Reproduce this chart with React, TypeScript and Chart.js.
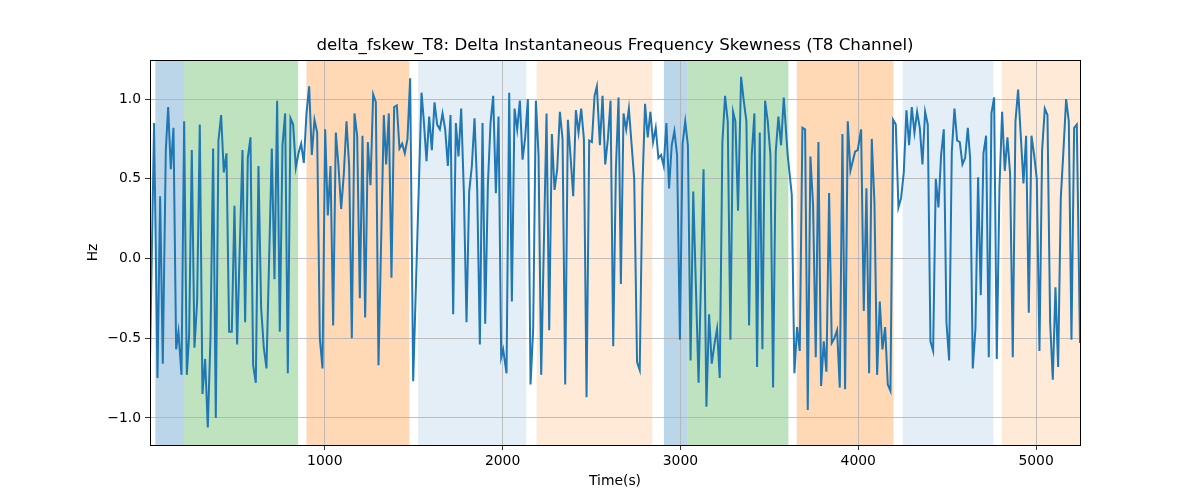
import React, { useEffect, useRef } from "react";
import { Chart, registerables } from "chart.js";

Chart.register(...registerables);

const times = [
  17, 40, 59, 74, 89, 106, 119, 134, 149, 164, 177, 194, 209, 224, 237, 252, 267, 282, 297, 312,
  327, 342, 357, 372, 387, 402, 417, 432, 447, 462, 477, 492, 507, 537, 552, 567, 582, 597, 612, 627,
  642, 657, 672, 702, 717, 732, 747, 762, 777, 792, 807, 822, 837, 852, 867, 882, 897, 912, 927, 942,
  957, 972, 987, 1002, 1017, 1032, 1047, 1062, 1077, 1092, 1107, 1122, 1137, 1152, 1167, 1182, 1197, 1212, 1227, 1242,
  1257, 1272, 1287, 1302, 1332, 1345, 1360, 1375, 1390, 1405, 1420, 1435, 1450, 1465, 1480, 1497, 1544, 1557, 1572, 1587,
  1602, 1617, 1632, 1647, 1662, 1677, 1692, 1707, 1722, 1737, 1752, 1767, 1782, 1797, 1812, 1827, 1842, 1857, 1872, 1887,
  1902, 1917, 1932, 1947, 1962, 1977, 1992, 2003, 2022, 2037, 2052, 2067, 2082, 2097, 2112, 2127, 2142, 2157, 2172, 2187,
  2202, 2217, 2247, 2262, 2277, 2292, 2307, 2322, 2337, 2352, 2367, 2382, 2397, 2412, 2427, 2442, 2457, 2472, 2487, 2502,
  2517, 2530, 2547, 2562, 2577, 2592, 2607, 2622, 2637, 2652, 2665, 2680, 2695, 2710, 2725, 2740, 2756, 2771, 2786, 2801,
  2816, 2831, 2846, 2861, 2876, 2891, 2906, 2921, 2936, 2951, 2966, 2981, 2997, 3012, 3027, 3042, 3057, 3072, 3102, 3130,
  3146, 3161, 3176, 3191, 3206, 3221, 3236, 3251, 3266, 3281, 3296, 3309, 3324, 3341, 3356, 3371, 3386, 3401, 3416, 3431,
  3446, 3461, 3476, 3491, 3506, 3521, 3536, 3551, 3566, 3581, 3603, 3626, 3641, 3656, 3671, 3686, 3701, 3716, 3731, 3746,
  3761, 3776, 3791, 3806, 3821, 3836, 3851, 3866, 3881, 3896, 3911, 3926, 3941, 3956, 3967, 3982, 3997, 4016, 4031, 4046,
  4061, 4076, 4091, 4106, 4121, 4136, 4151, 4166, 4181, 4196, 4211, 4226, 4241, 4256, 4271, 4286, 4301, 4316, 4331, 4346,
  4361, 4376, 4391, 4406, 4421, 4436, 4451, 4466, 4481, 4496, 4511, 4526, 4541, 4556, 4571, 4586, 4601, 4616, 4629, 4644,
  4659, 4674, 4689, 4704, 4719, 4734, 4749, 4764, 4779, 4794, 4809, 4824, 4839, 4854, 4869, 4884, 4899, 4914, 4929, 4944,
  4959, 4974, 4989, 5004, 5019, 5034, 5049, 5064, 5079, 5094, 5109, 5124, 5139, 5154, 5169, 5184, 5199, 5214, 5229, 5247,
];

const values = [
  -0.63, 0.85, -0.75, 0.39, -0.66, 0.68, 0.95, 0.56, 0.82, -0.57, -0.46, -0.73, 0.86, -0.73, -0.48, 0.68, -0.56, -0.27, 0.84, -0.85,
  -0.63, -1.06, -0.5, 0.69, -1.0, 0.74, 0.9, 0.54, 0.66, -0.46, -0.46, 0.33, -0.54, 0.68, -0.4, 0.63, 0.76, -0.67, -0.78, 0.58,
  -0.31, -0.56, -0.69, 0.69, -0.13, 0.99, -0.46, 0.71, 0.91, -0.72, 0.88, 0.84, 0.57, 0.66, 0.72, 0.6, 0.91, 1.08, 0.65, 0.87,
  0.79, -0.5, -0.69, 0.81, 0.27, 0.58, -0.42, 0.79, 0.58, 0.31, 0.53, 0.86, 0.58, -0.5, 0.91, 0.77, -0.25, 0.77, -0.37, 0.73,
  0.46, 1.03, 0.98, -0.67, 0.9, 0.59, 0.91, -0.12, 0.95, 0.96, 0.69, 0.72, 0.66, 0.75, 1.13, -0.77, 1.04, 0.86, 0.61, 0.89,
  0.68, 0.98, 0.84, 0.81, 0.91, 0.81, 0.58, 0.9, -0.35, 0.85, 0.64, 0.94, 0.42, -0.4, 0.42, 0.58, 0.88, 0.44, -0.54, 0.85,
  -0.41, 0.46, 0.85, 1.02, 0.41, 0.89, -0.62, -0.57, -0.72, 1.04, -0.27, 0.94, 0.81, 0.99, 0.62, 0.76, 1.0, -0.79, -0.44, 0.99,
  0.65, -0.73, 0.91, -0.45, 0.78, 0.43, 0.56, 0.92, 0.75, -0.79, 0.87, 0.64, 0.39, 0.93, 0.79, 0.94, 0.75, -0.87, 0.74, 0.73,
  1.02, 1.08, 0.71, 1.02, 0.59, 0.75, 0.99, -0.55, 0.56, 1.01, -0.16, 0.91, 0.81, 0.94, 0.72, 0.5, -0.65, -0.7, 0.44, 0.97,
  0.76, 0.92, 0.73, 0.82, 0.63, 0.65, 0.58, 0.85, 0.44, 0.71, 0.8, 0.65, -0.51, 0.72, 0.86, 0.71, -0.64, 0.42, -0.78, 0.56,
  -0.93, -0.35, -0.66, -0.54, -0.44, -0.75, 0.73, 1.02, 0.86, -0.51, 0.92, 0.86, 0.3, 1.14, 0.99, 0.86, -0.42, 0.65, 0.91, -0.68,
  0.79, -0.57, 0.99, 0.86, 0.65, -0.81, 0.67, 0.89, 0.71, 1.01, 0.65, 0.4, -0.72, -0.43, -0.58, 0.82, 0.81, -0.95, 0.64, 0.33,
  -0.62, 0.73, -0.8, -0.52, -0.71, 0.41, -0.53, -0.5, -0.45, -0.81, 0.78, -0.82, 0.86, 0.55, 0.6, 0.67, 0.68, 0.81, -0.33, 0.44,
  -0.72, 0.75, 0.35, -0.73, -0.27, -0.57, -0.43, -0.79, -0.83, 0.87, 0.84, 0.32, 0.38, 0.54, 0.93, 0.71, 0.95, 0.79, 0.92, 0.82,
  0.59, 0.92, 0.84, -0.52, -0.58, 0.5, 0.32, 0.65, 0.81, -0.4, -0.64, 0.67, 0.94, 0.74, 0.73, 0.59, 0.63, 0.82, 0.63, -0.69,
  -0.44, 0.51, -0.23, 0.66, 0.77, -0.62, 0.91, 1.01, -0.63, 0.44, 0.92, 0.55, 0.76, 0.53, -0.62, 0.86, 1.06, 0.77, 0.47, 0.77,
  -0.34, 0.77, 0.65, 0.5, -0.58, 0.68, 0.94, 0.9, -0.4, -0.76, -0.18, -0.68, 0.38, 0.68, 1.0, 0.86, -0.51, 0.82, 0.84, -0.53,
];

const xTicks = [1000, 2000, 3000, 4000, 5000];
const yTicks = [-1.0, -0.5, 0.0, 0.5, 1.0];

const spanStarts = [47, 209, 897, 1525, 2191, 2907, 3039, 3654, 4250, 4807];
const spanEnds = [209, 850, 1475, 2133, 2842, 3039, 3607, 4198, 4760, 5247];
const spanColors = [
  "rgba(31,119,180,0.3)",
  "rgba(44,160,44,0.3)",
  "rgba(255,127,14,0.3)",
  "rgba(31,119,180,0.12)",
  "rgba(255,127,14,0.16)",
  "rgba(31,119,180,0.3)",
  "rgba(44,160,44,0.3)",
  "rgba(255,127,14,0.3)",
  "rgba(31,119,180,0.12)",
  "rgba(255,127,14,0.16)",
];

const FONT = "'DejaVu Sans', sans-serif";

const spanPlugin = {
  id: "spans",
  beforeDraw(chart: any) {
    const { ctx, chartArea, scales } = chart;
    ctx.save();
    ctx.beginPath();
    ctx.rect(chartArea.left, chartArea.top, chartArea.right - chartArea.left, chartArea.bottom - chartArea.top);
    ctx.clip();
    for (let i = 0; i < spanStarts.length; i++) {
      const x0 = scales.x.getPixelForValue(spanStarts[i]);
      const x1 = scales.x.getPixelForValue(spanEnds[i]);
      ctx.fillStyle = spanColors[i];
      ctx.fillRect(x0, chartArea.top, x1 - x0, chartArea.bottom - chartArea.top);
    }
    ctx.restore();
  },
  afterDraw(chart: any) {
    const { ctx, chartArea } = chart;
    ctx.save();
    ctx.strokeStyle = "#000";
    ctx.lineWidth = 1;
    ctx.strokeRect(
      Math.round(chartArea.left) + 0.5,
      Math.round(chartArea.top) + 0.5,
      Math.round(chartArea.right - chartArea.left),
      Math.round(chartArea.bottom - chartArea.top)
    );
    ctx.restore();
  },
};

export default function App() {
  const ref = useRef<HTMLCanvasElement | null>(null);

  useEffect(() => {
    if (!ref.current) return;
    const data = times.map((t, i) => ({ x: t, y: values[i] }));
    const chart = new Chart(ref.current, {
      type: "line",
      data: {
        datasets: [
          {
            data,
            borderColor: "#1f77b4",
            borderWidth: 2,
            pointRadius: 0,
            tension: 0,
            fill: false,
          },
        ],
      },
      options: {
        responsive: false,
        animation: false,
        devicePixelRatio: 1,
        layout: { padding: { left: 0, right: 120, top: 0, bottom: 0 } },
        plugins: {
          legend: { display: false },
          tooltip: { enabled: false },
          title: {
            display: true,
            fullSize: false,
            text: "delta_fskew_T8: Delta Instantaneous Frequency Skewness (T8 Channel)",
            color: "#000",
            font: { family: FONT, size: 16.67, weight: "normal" },
            padding: { top: 36, bottom: 4 },
          },
        },
        scales: {
          x: {
            type: "linear",
            min: 17,
            max: 5247,
            afterFit: (scale: any) => {
              scale.height = 55;
            },
            afterBuildTicks: (scale: any) => {
              scale.ticks = xTicks.map((v) => ({ value: v }));
            },
            ticks: {
              color: "#000",
              font: { family: FONT, size: 13.9 },
              padding: 3,
              maxRotation: 0,
              callback: (v: any) => String(v),
            },
            grid: {
              color: "#b0b0b0",
              lineWidth: 0.8,
              tickColor: "#000",
              tickLength: 5,
            },
            border: { display: false },
            title: {
              display: true,
              text: "Time(s)",
              color: "#000",
              font: { family: FONT, size: 13.9 },
              padding: { top: 0, bottom: 10.7 },
            },
          },
          y: {
            type: "linear",
            min: -1.17,
            max: 1.245,
            afterFit: (scale: any) => {
              scale.width = 150;
            },
            afterBuildTicks: (scale: any) => {
              scale.ticks = yTicks.map((v) => ({ value: v }));
            },
            ticks: {
              color: "#000",
              font: { family: FONT, size: 13.9 },
              padding: 4,
              callback: (v: any) => (v < 0 ? "\u2212" : "") + Math.abs(Number(v)).toFixed(1),
            },
            grid: {
              color: "#b0b0b0",
              lineWidth: 0.8,
              tickColor: "#000",
              tickLength: 5,
            },
            border: { display: false },
            title: {
              display: true,
              text: "Hz",
              color: "#000",
              font: { family: FONT, size: 13.9 },
              padding: { top: 84.7, bottom: 0 },
            },
          },
        },
      },
      plugins: [spanPlugin],
    });
    return () => chart.destroy();
  }, []);

  return (
    <div style={{ position: "absolute", left: 0, top: 0, width: 1200, height: 500 }}>
      <canvas ref={ref} width={1200} height={500} style={{ display: "block", width: 1200, height: 500 }} />
    </div>
  );
}
